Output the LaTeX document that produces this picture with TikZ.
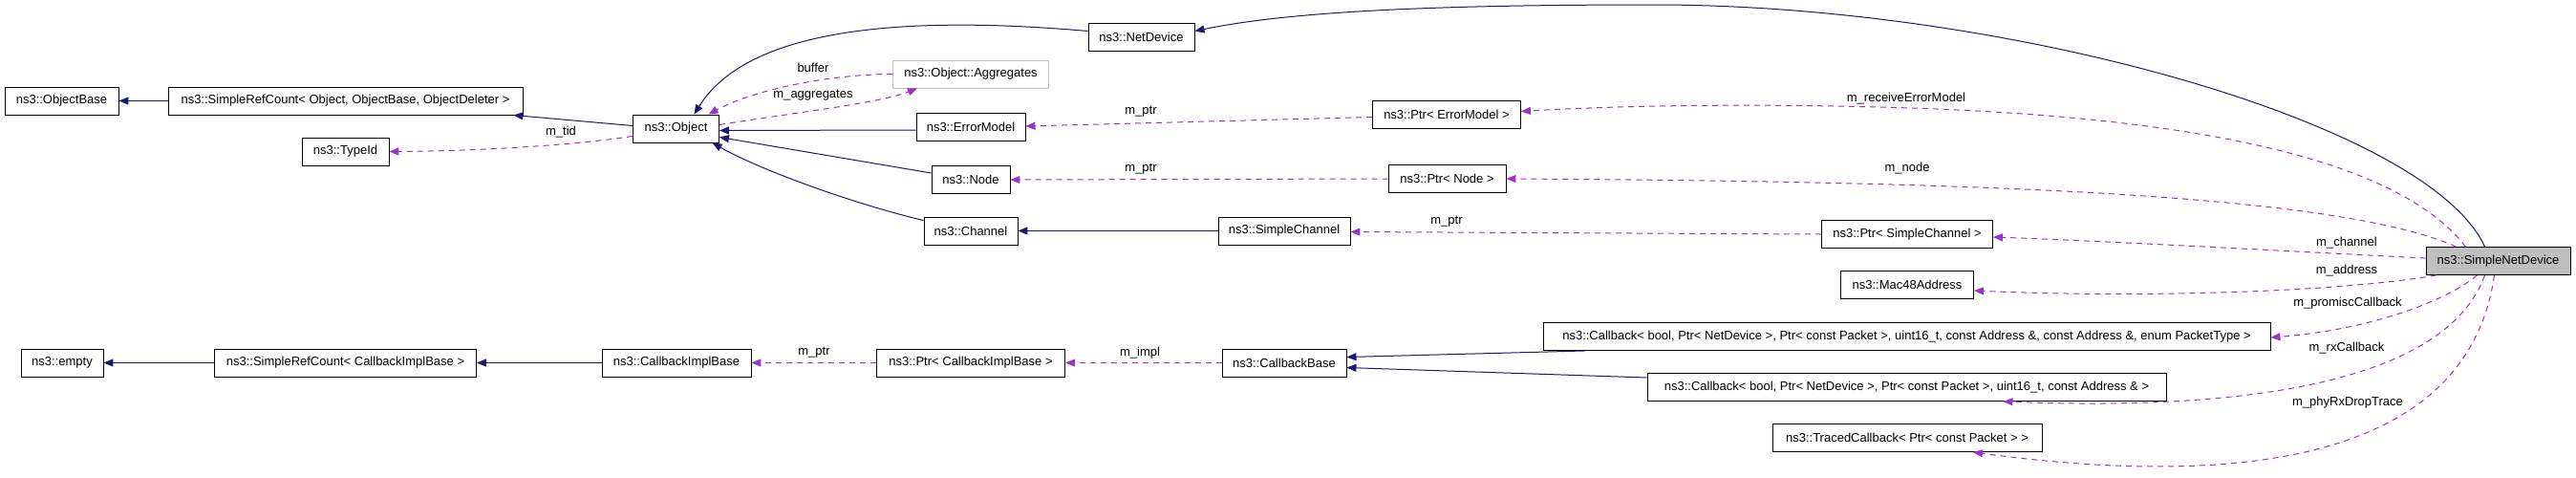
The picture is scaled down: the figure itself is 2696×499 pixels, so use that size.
\documentclass[tikz,border=0pt]{standalone}
\usepackage{fontspec}
\setmainfont{Liberation Sans}
\usetikzlibrary{arrows.meta,calc}
\definecolor{navyc}{HTML}{191970}
\definecolor{purp}{HTML}{9A32CD}
\definecolor{grayb}{HTML}{BFBFBF}
\newcommand{\lblfont}{\fontsize{13}{15}\selectfont}
\tikzset{
  cls/.style={draw=black, line width=0.9pt, fill=white, minimum height=29pt, inner xsep=5pt, inner ysep=0pt, font=\lblfont},
  inh/.style={draw=navyc, line width=1pt, -{Triangle[length=10pt,width=8pt]}},
  use/.style={draw=purp, line width=1pt, dash pattern=on 6pt off 5pt, -{Triangle[length=10pt,width=8pt]}},
  elab/.style={font=\lblfont, inner sep=0pt}
}
\begin{document}
\begin{tikzpicture}[x=1pt,y=-1pt]
\useasboundingbox[fill=white] (0,0) rectangle (2696,499);
% nodes
\node[cls, minimum width=119pt] (objbase) at (64.5,105.5) {ns3::ObjectBase};
\node[cls, minimum width=371pt] (srcobj) at (361.5,105.5) {ns3::SimpleRefCount< Object, ObjectBase, ObjectDeleter >};
\node[cls, minimum width=91pt] (typeid) at (361.5,158.5) {ns3::TypeId};
\node[cls, minimum width=90pt] (object) at (707.5,134.5) {ns3::Object};
\node[cls, minimum width=111pt] (netdev) at (1194.5,38.5) {ns3::NetDevice};
\node[cls, draw=grayb, minimum width=163pt] (aggr) at (1016,77.5) {ns3::Object::Aggregates};
\node[cls, minimum width=114pt] (errmod) at (1016,133) {ns3::ErrorModel};
\node[cls, minimum width=82pt] (node) at (1016,188) {ns3::Node};
\node[cls, minimum width=98pt] (channel) at (1016,241.5) {ns3::Channel};
\node[cls, minimum width=138pt] (simplech) at (1344,241.5) {ns3::SimpleChannel};
\node[cls, minimum width=155pt] (ptrerr) at (1514,119.5) {ns3::Ptr< ErrorModel >};
\node[cls, minimum width=123pt] (ptrnode) at (1514.5,187) {ns3::Ptr< Node >};
\node[cls, minimum width=179pt] (ptrsch) at (1996,245) {ns3::Ptr< SimpleChannel >};
\node[cls, fill=grayb, minimum width=151pt] (snd) at (2614.5,273) {ns3::SimpleNetDevice};
\node[cls, minimum width=139pt] (mac) at (1996,298) {ns3::Mac48Address};
\node[cls, minimum width=761pt] (cbpt) at (1995.5,352) {ns3::Callback< bool, Ptr< NetDevice >, Ptr< const Packet >, uint16\_t, const Address \&, const Address \&, enum PacketType >};
\node[cls, minimum width=543pt] (cba) at (1995.5,405) {ns3::Callback< bool, Ptr< NetDevice >, Ptr< const Packet >, uint16\_t, const Address \& >};
\node[cls, minimum width=282pt] (traced) at (1996,458) {ns3::TracedCallback< Ptr< const Packet > >};
\node[cls, minimum width=86pt] (empty) at (65,379.5) {ns3::empty};
\node[cls, minimum width=274pt] (srccib) at (361.5,379.5) {ns3::SimpleRefCount< CallbackImplBase >};
\node[cls, minimum width=156pt] (cib) at (708,379.5) {ns3::CallbackImplBase};
\node[cls, minimum width=197.5pt] (ptrcib) at (1016,379.5) {ns3::Ptr< CallbackImplBase >};
\node[cls, minimum width=130pt] (cbbase) at (1344,379.5) {ns3::CallbackBase};
% inheritance
\draw[inh] (srcobj.west) -- (objbase.east);
\draw[inh] ($(object.west)+(0,-3)$) -- ($(srcobj.south east)+(-10,0)$);
\draw[inh] ($(netdev.west)+(0,-6)$) .. controls (880,10) and (770,50) .. ($(object.north)+(19,0)$);
\draw[inh] ($(errmod.west)+(0,3)$) -- ($(object.east)+(0,2)$);
\draw[inh] ($(node.west)+(0,-7)$) -- ($(object.east)+(0,9)$);
\draw[inh] ($(channel.west)+(0,-11)$) .. controls (900,215) and (800,180) .. ($(object.south)+(38,0)$);
\draw[inh] (simplech.west) -- (channel.east);
\draw[inh] ($(snd.north)+(-14,0)$) .. controls (2541,128) and (2100,5) .. (1731,5) .. controls (1500,5) and (1350,12) .. ($(netdev.east)+(0,-6)$);
\draw[inh] ($(cbpt.south west)+(45,0)$) -- ($(cbbase.east)+(0,-6)$);
\draw[inh] ($(cba.west)+(0,-10)$) -- ($(cbbase.east)+(0,5)$);
\draw[inh] (cib.west) -- (srccib.east);
\draw[inh] (srccib.west) -- (empty.east);
% usage
\draw[use] ($(object.west)+(0,8)$) .. controls (600,152) and (500,158) .. (typeid.east);
\node[elab] (ltid) at (587,138) {m\_tid};
\draw[use] (aggr.west) .. controls (860,78) and (785,96) .. ($(object.north)+(34,0)$);
\node[elab] (lbuf) at (851,71) {buffer};
\draw[use] ($(object.east)+(0,-4)$) .. controls (830,118) and (920,108) .. ($(aggr.south west)+(26,0)$);
\node[elab] (lagg) at (851,100) {m\_aggregates};
\draw[use] ($(ptrerr.west)+(0,3)$) -- ($(errmod.east)+(0,-1)$);
\node[elab] (lp1) at (1194,117) {m\_ptr};
\draw[use] (ptrnode.west) -- (node.east);
\node[elab] (lp2) at (1194,177) {m\_ptr};
\draw[use] (ptrsch.west) -- ($(simplech.east)+(0,1)$);
\node[elab] (lp3) at (1514,232) {m\_ptr};
\draw[use] ($(snd.north)+(-34,0)$) .. controls (2520,180) and (2350,125) .. (2000,113) .. controls (1850,108) and (1700,110) .. ($(ptrerr.east)+(0,-3)$);
\node[elab] (lrem) at (1995,103) {m\_receiveErrorModel};
\draw[use] ($(snd.north)+(-44,0)$) .. controls (2450,205) and (2100,190) .. (ptrnode.east);
\node[elab] (lnode) at (1996,176) {m\_node};
\draw[use] ($(snd.west)+(0,-3)$) .. controls (2400,263) and (2200,252) .. ($(ptrsch.east)+(0,3)$);
\node[elab] (lch) at (2456,254) {m\_channel};
\draw[use] ($(snd.south west)+(11,0)$) .. controls (2450,305) and (2250,312) .. ($(mac.east)+(0,6)$);
\node[elab] (ladr) at (2456,283) {m\_address};
\draw[use] ($(snd.south)+(-22,0)$) .. controls (2560,315) and (2480,345) .. ($(cbpt.east)+(0,1)$);
\node[elab] (lprom) at (2457,317) {m\_promiscCallback};
\draw[use] ($(snd.south)+(-14,0)$) .. controls (2560,400) and (2350,430) .. ($(cba.south)+(101,0)$);
\node[elab] (lrx) at (2456,364) {m\_rxCallback};
\draw[use] ($(snd.south)+(-4,0)$) .. controls (2580,500) and (2300,505) .. ($(traced.south)+(69,0)$);
\node[elab] (lphy) at (2457,421) {m\_phyRxDropTrace};
\draw[use] (cbbase.west) -- (ptrcib.east);
\node[elab] (limpl) at (1193,369) {m\_impl};
\draw[use] (ptrcib.west) -- (cib.east);
\node[elab] (lp4) at (852,369) {m\_ptr};
\end{tikzpicture}
\end{document}
